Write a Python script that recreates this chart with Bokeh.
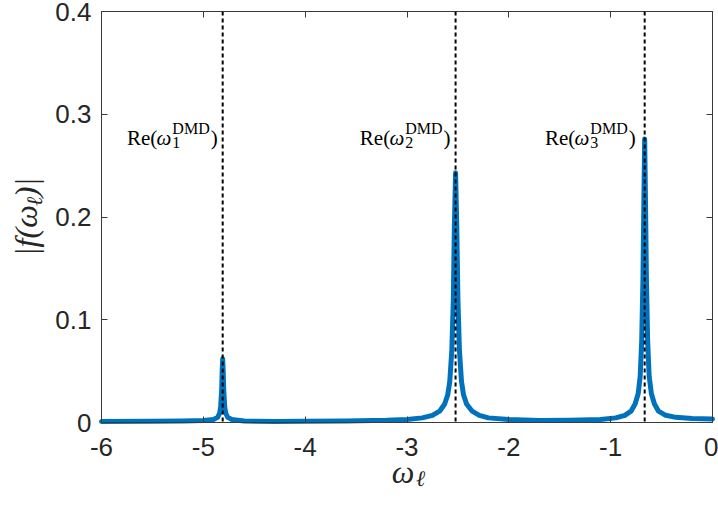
import math
from bokeh.plotting import figure
from bokeh.models import Label, Span, FixedTicker, LinearAxis, Range1d
from bokeh.embed import file_html
from bokeh.resources import INLINE

# ---------------- data ----------------
omega = [-6.0, -5.5, -5.2, -5.0, -4.9, -4.86, -4.84, -4.83, -4.82, -4.815, -4.81,
         -4.805, -4.80, -4.79, -4.78, -4.76, -4.72, -4.6, -4.3, -4.0, -3.6, -3.2,
         -3.0, -2.85, -2.75, -2.68, -2.63, -2.60, -2.58, -2.56, -2.545, -2.535,
         -2.523, -2.511, -2.50, -2.485, -2.465, -2.445, -2.415, -2.36, -2.29, -2.2,
         -2.0, -1.7, -1.4, -1.1, -0.95, -0.86, -0.80, -0.76, -0.73, -0.71, -0.695,
         -0.683, -0.674, -0.666, -0.658, -0.649, -0.637, -0.622, -0.60, -0.57,
         -0.53, -0.46, -0.36, -0.2, 0.0]
f_abs = [0.0010, 0.0012, 0.0015, 0.0020, 0.0030, 0.0050, 0.0090, 0.0150, 0.0320, 0.050, 0.062,
         0.050, 0.032, 0.015, 0.009, 0.005, 0.003, 0.0015, 0.0010, 0.0012, 0.0015, 0.0022,
         0.0030, 0.0045, 0.0070, 0.0110, 0.0180, 0.0270, 0.0400, 0.0700, 0.120, 0.190,
         0.243, 0.190, 0.120, 0.070, 0.040, 0.027, 0.018, 0.011, 0.007, 0.0045,
         0.0030, 0.0020, 0.0022, 0.0030, 0.0045, 0.0070, 0.0110, 0.0180, 0.0280, 0.0450, 0.080,
         0.140, 0.215, 0.276, 0.215, 0.140, 0.080, 0.045, 0.028, 0.018,
         0.011, 0.007, 0.0050, 0.0040, 0.0035]

dmd_re = [-4.81, -2.523, -0.666]        # Re(omega_k^DMD)
dmd_idx = ["1", "2", "3"]

x_ticks = [-6, -5, -4, -3, -2, -1, 0]
x_tick_labels = ["-6", "-5", "-4", "-3", "-2", "-1", "0"]
y_ticks = [0, 0.1, 0.2, 0.3, 0.4]
y_tick_labels = ["0", "0.1", "0.2", "0.3", "0.4"]

x_label_main, x_label_sub = "ω ", "ℓ"
y_label_main, y_label_sub = "|f(ω )|", "ℓ"

# ---------------- layout constants ----------------
W, H = 718, 505
L, R, T, B = 101, 6, 11, 83
XMIN, XMAX, YMIN, YMAX = -6, 0, 0, 0.4
FW, FH = W - L - R, H - T - B

def px2x(px):
    return XMIN + (px - L) * (XMAX - XMIN) / FW

def py2y(py):
    return YMIN + (T + FH - py) * (YMAX - YMIN) / FH

AX = "#3a3a3a"
BLUE = "#0072BD"
SERIF = "Liberation Serif"
SANS = "Liberation Sans"
LAB_C = "#262626"

p = figure(width=W, height=H, x_range=Range1d(XMIN, XMAX), y_range=Range1d(YMIN, YMAX),
           output_backend="svg", toolbar_location=None,
           min_border_left=L, min_border_right=R, min_border_top=T, min_border_bottom=B)
p.grid.visible = False
p.outline_line_color = AX
p.outline_line_width = 1
p.background_fill_color = "white"
p.border_fill_color = "white"

def style_axis(ax, ticks, labels, show_labels, standoff):
    ax.ticker = FixedTicker(ticks=ticks)
    ax.major_tick_in = 6
    ax.major_tick_out = 0
    ax.minor_tick_line_color = None
    ax.axis_line_color = AX
    ax.major_tick_line_color = AX
    ax.major_label_text_color = LAB_C
    ax.major_label_text_font = SANS
    ax.major_label_standoff = standoff
    if show_labels:
        ax.major_label_text_font_size = "26px"
        ax.major_label_overrides = {t: s for t, s in zip(ticks, labels)}
    else:
        ax.major_label_text_font_size = "1px"
        ax.major_label_overrides = {t: "" for t in ticks}

def style_label(ax, text, standoff):
    ax.axis_label = text
    ax.axis_label_text_font = SERIF
    ax.axis_label_text_font_style = "italic"
    ax.axis_label_text_font_size = "32px"
    ax.axis_label_text_color = LAB_C
    ax.axis_label_standoff = standoff

xa, ya = p.xaxis[0], p.yaxis[0]
style_axis(xa, x_ticks, x_tick_labels, True, 15)
style_axis(ya, y_ticks, y_tick_labels, True, 10)
style_label(xa, x_label_main, -5)
style_label(ya, y_label_main, 8)

top_ax = LinearAxis()
style_axis(top_ax, x_ticks, x_tick_labels, False, 0)
p.add_layout(top_ax, "above")
right_ax = LinearAxis()
style_axis(right_ax, y_ticks, y_tick_labels, False, 0)
p.add_layout(right_ax, "right")

# subscripts of the axis labels, carried by label-only axes
def sub_axis(pos, text, standoff, orientation):
    ax = LinearAxis(ticker=FixedTicker(ticks=[pos]), major_label_overrides={pos: text})
    ax.axis_line_color = None
    ax.major_tick_line_color = None
    ax.minor_tick_line_color = None
    ax.major_tick_in = 0
    ax.major_tick_out = 0
    ax.major_label_text_font = SERIF
    ax.major_label_text_font_style = "italic"
    ax.major_label_text_font_size = "22px"
    ax.major_label_text_color = LAB_C
    ax.major_label_standoff = standoff
    ax.major_label_orientation = orientation
    return ax

xs_pos = round(px2x(420), 4)
p.add_layout(sub_axis(xs_pos, x_label_sub, -27, "horizontal"), "below")
ys_pos = round(py2y(201), 4)
p.add_layout(sub_axis(ys_pos, y_label_sub, -42, "vertical"), "left")

r = p.line(omega, f_abs, line_color=BLUE, line_width=5, line_join="round", line_cap="round")
r.level = "guide"

for xk in dmd_re:
    p.add_layout(Span(location=xk, dimension="height", line_color="black",
                      line_width=2, line_dash="4 3"))

# ---------------- peak labels: Re(omega_k^DMD) ----------------
main_fs, script_fs = 21, 16
base_py = 137
gaps = [-5, -5, -9]
for xk, k, g in zip(dmd_re, dmd_idx, gaps):
    paren_w = 0.333 * main_fs
    dmd_w = 2.333 * script_fs
    om_w = 0.67 * main_fs
    x_paren = g
    x_script_l = g - paren_w - 1 - dmd_w
    x_om_r = x_script_l - 1
    x_re_r = x_om_r - om_w
    yb = py2y(base_py)
    p.add_layout(Label(x=xk, y=yb, x_offset=x_paren, text=")", text_align="right",
                       text_baseline="alphabetic", text_font=SERIF,
                       text_font_size=f"{main_fs}px", text_color="black"))
    p.add_layout(Label(x=xk, y=py2y(base_py - 9), x_offset=x_script_l, text="DMD",
                       text_align="left", text_baseline="alphabetic", text_font=SERIF,
                       text_font_size=f"{script_fs}px", text_color="black"))
    p.add_layout(Label(x=xk, y=py2y(base_py + 5), x_offset=x_script_l, text=k,
                       text_align="left", text_baseline="alphabetic", text_font=SERIF,
                       text_font_size=f"{script_fs}px", text_color="black"))
    p.add_layout(Label(x=xk, y=yb, x_offset=x_om_r, text="ω", text_align="right",
                       text_baseline="alphabetic", text_font=SERIF, text_font_style="italic",
                       text_font_size=f"{main_fs}px", text_color="black"))
    p.add_layout(Label(x=xk, y=yb, x_offset=x_re_r, text="Re(", text_align="right",
                       text_baseline="alphabetic", text_font=SERIF,
                       text_font_size=f"{main_fs}px", text_color="black"))

open("out.html", "w").write(file_html(p, INLINE))
